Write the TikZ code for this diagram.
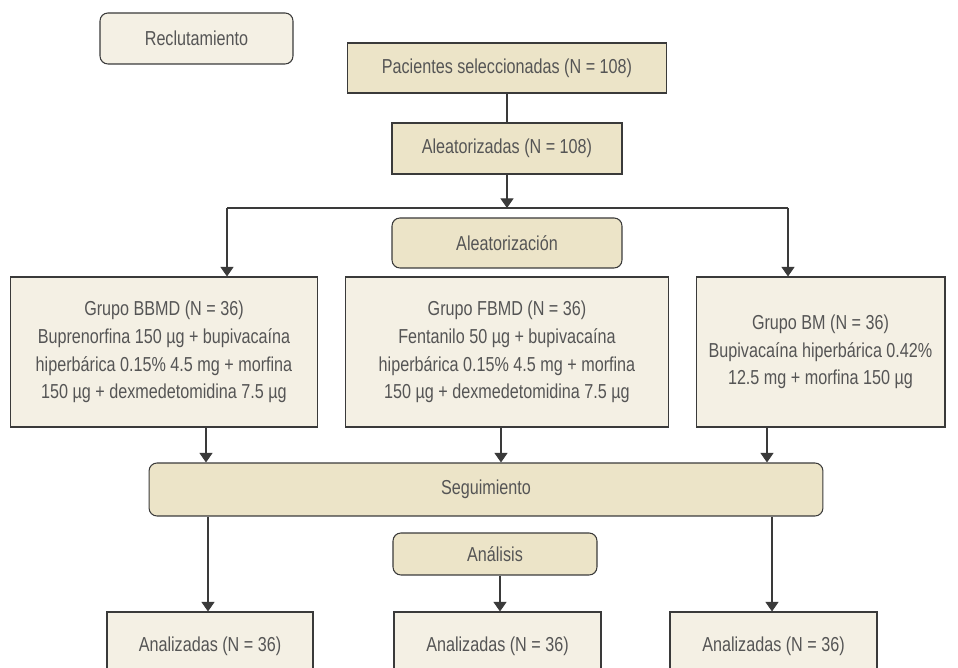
\documentclass[tikz,border=0pt]{standalone}
\usepackage{fontspec}
\setmainfont[FakeStretch=0.8]{Liberation Sans}
\usepackage{tikz}
\usetikzlibrary{positioning,arrows.meta}

\definecolor{boxlight}{HTML}{F4F0E4}
\definecolor{boxdark}{HTML}{ECE4C8}
\definecolor{txtgray}{HTML}{555555}
\definecolor{linegray}{HTML}{3A3A3A}

\tikzset{
  box/.style={draw=linegray, line width=0.6pt, fill=boxlight, text=txtgray, align=center,
    inner sep=2pt, font=\fontsize{11.5}{15.7}\selectfont},
  dbox/.style={box, fill=boxdark},
  rbox/.style={box, rounded corners=4.5pt},
  arr/.style={draw=linegray, line width=0.6pt, -{Triangle[width=7.5pt,length=5.5pt]}},
  ln/.style={draw=linegray, line width=0.6pt}
}

\begin{document}
\begin{tikzpicture}[x=0.02cm, y=-0.02cm]
      \useasboundingbox (0,0) rectangle (958,668);
      \clip (0,0) rectangle (958,668);

      \node[rbox, minimum width=3.86cm, minimum height=1.02cm] (recl) at (196.5,38.5) {Reclutamiento};
      \node[dbox, minimum width=6.4cm, minimum height=1.0cm] (pac) at (507,68) {Pacientes seleccionadas (N = 108)};
      \node[dbox, minimum width=4.6cm, minimum height=1.02cm] (alea) at (507,148.5) {Aleatorizadas (N = 108)};
      \node[dbox, rounded corners=4.5pt, minimum width=4.6cm, minimum height=1.0cm] (azar) at (507,243) {Aleatorización};

      \node[box, minimum width=6.16cm, minimum height=3.0cm] (bbmd) at (164,352)
        {Grupo BBMD (N = 36)\\Buprenorfina 150 µg + bupivacaína\\hiperbárica 0.15\% 4.5 mg + morfina\\150 µg + dexmedetomidina 7.5 µg};
      \node[box, minimum width=6.48cm, minimum height=3.0cm] (fbmd) at (507,352)
        {Grupo FBMD (N = 36)\\Fentanilo 50 µg + bupivacaína\\hiperbárica 0.15\% 4.5 mg + morfina\\150 µg + dexmedetomidina 7.5 µg};
      \node[box, minimum width=4.98cm, minimum height=3.0cm] (bm) at (820.5,352)
        {Grupo BM (N = 36)\\Bupivacaína hiperbárica 0.42\%\\12.5 mg + morfina 150 µg};

      \node[dbox, rounded corners=4.5pt, minimum width=13.48cm, minimum height=1.06cm] (seg) at (486,489.5) {Seguimiento};
      \node[dbox, rounded corners=4.5pt, minimum width=4.08cm, minimum height=0.84cm] (anal) at (495,554) {Análisis};

      \node[box, minimum width=4.12cm, minimum height=1.36cm] (resL) at (210,646) {Analizadas (N = 36)};
      \node[box, minimum width=4.14cm, minimum height=1.36cm] (resM) at (497.5,646) {Analizadas (N = 36)};
      \node[box, minimum width=4.14cm, minimum height=1.36cm] (resR) at (773.5,646) {Analizadas (N = 36)};

      \coordinate (split) at (507,208);
      \coordinate (splitL) at (227,208);
      \coordinate (splitR) at (788,208);

      \draw[ln] (pac) -- (alea);
      \draw[arr] (alea) -- (split);
      \draw[ln] (splitL) -- (splitR);
      \draw[arr] (splitL) -- (splitL |- bbmd.north);
      \draw[arr] (splitR) -- (splitR |- bm.north);

      \draw[arr] (bbmd.south -| 206,0) -- (seg.north -| 206,0);
      \draw[arr] (fbmd.south -| 501,0) -- (seg.north -| 501,0);
      \draw[arr] (bm.south -| 767,0) -- (seg.north -| 767,0);

      \draw[arr] (seg.south -| 208,0) -- (resL.north -| 208,0);
      \draw[arr] (anal.south -| 500,0) -- (resM.north -| 500,0);
      \draw[arr] (seg.south -| 772,0) -- (resR.north -| 772,0);
    \end{tikzpicture}
\end{document}
